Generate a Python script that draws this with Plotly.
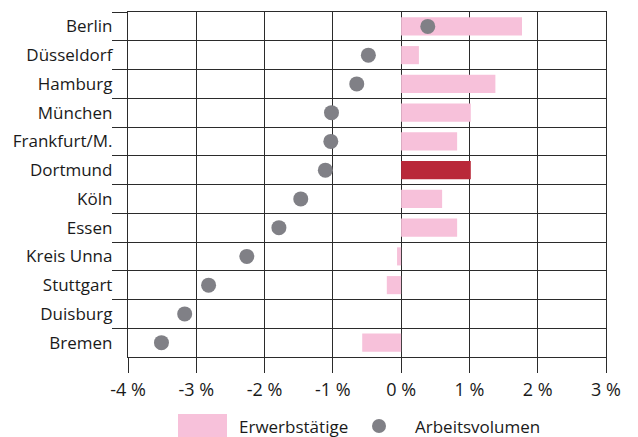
import plotly.graph_objects as go

# Cities, top to bottom
cities = ["Berlin", "Düsseldorf", "Hamburg", "München", "Frankfurt/M.", "Dortmund",
          "Köln", "Essen", "Kreis Unna", "Stuttgart", "Duisburg", "Bremen"]

# Change in persons employed (%)
erwerbstaetige = [1.77, 0.26, 1.38, 1.02, 0.82, 1.02, 0.60, 0.82, -0.06, -0.21, 0.0, -0.57]

# Change in working volume (%)
arbeitsvolumen = [0.39, -0.48, -0.65, -1.02, -1.03, -1.11, -1.47, -1.79, -2.26, -2.82, -3.17, -3.51]

x_ticks = [-4, -3, -2, -1, 0, 1, 2, 3]
x_tick_labels = ["-4 %", "-3 %", "-2 %", "-1 %", "0 %", "1 %", "2 %", "3 %"]

PINK = "#f7c1da"
RED = "#b92839"
DOT = "#808086"
LINE = "#2b2b2b"
FONT = "Open Sans"

bar_colors = [RED if c == "Dortmund" else PINK for c in cities]

fig = go.Figure()
fig.add_trace(go.Bar(
    x=erwerbstaetige, y=cities, orientation="h",
    marker=dict(color=bar_colors, line=dict(width=0)),
    width=0.63, name="Erwerbstätige", showlegend=False,
))
fig.add_trace(go.Scatter(
    x=arbeitsvolumen, y=cities, mode="markers",
    marker=dict(color=DOT, size=15, line=dict(width=0)),
    name="Arbeitsvolumen", showlegend=False,
))

fig.update_layout(
    template="none",
    width=638, height=437,
    margin=dict(l=128, r=32, t=12, b=80, autoexpand=False),
    plot_bgcolor="white", paper_bgcolor="white",
    font=dict(family=FONT, size=16, color="#1a1a1a"),
    bargap=0.37,
)
fig.update_xaxes(
    range=[-4, 3], tickvals=x_ticks, ticktext=x_tick_labels,
    showgrid=True, gridcolor=LINE, gridwidth=1,
    zeroline=True, zerolinecolor=LINE, zerolinewidth=1.3,
    showline=True, linecolor=LINE, linewidth=1.3, mirror=True,
    ticks="outside", ticklen=15, tickcolor=LINE, tickwidth=1,
    ticklabelstandoff=1,
    tickfont=dict(size=18), fixedrange=True, automargin=False,
)
fig.update_yaxes(
    type="category", range=[11.5, -0.5],
    tickson="boundaries", showgrid=True, gridcolor=LINE, gridwidth=1,
    showline=True, linecolor=LINE, linewidth=1.3, mirror=True,
    ticks="outside", ticklen=15, tickcolor=LINE, tickwidth=1,
    ticklabelstandoff=11,
    tickfont=dict(size=17), fixedrange=True, automargin=False,
)

# Legend drawn below the axis
fig.add_shape(type="rect", xref="paper", yref="paper",
              x0=(178 - 128) / 478, x1=(227 - 128) / 478,
              y0=-80 / 345, y1=-57 / 345,
              fillcolor=PINK, line=dict(width=0))
fig.add_annotation(text="Erwerbstätige", xref="paper", yref="paper",
                   x=(237 - 128) / 478, y=-69 / 345, xanchor="left", yanchor="middle",
                   showarrow=False, font=dict(size=17))
fig.add_shape(type="circle", xref="paper", yref="paper",
              x0=(372 - 128) / 478, x1=(386 - 128) / 478,
              y0=-76 / 345, y1=-62 / 345,
              fillcolor=DOT, line=dict(width=0))
fig.add_annotation(text="Arbeitsvolumen", xref="paper", yref="paper",
                   x=(413 - 128) / 478, y=-69 / 345, xanchor="left", yanchor="middle",
                   showarrow=False, font=dict(size=17))

fig.write_html("out.html")
